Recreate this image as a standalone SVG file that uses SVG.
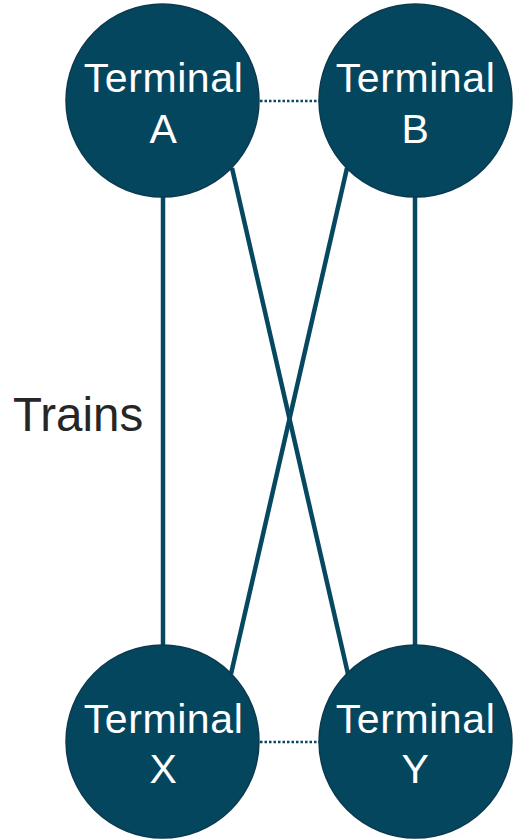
<svg xmlns="http://www.w3.org/2000/svg" width="513" height="840" viewBox="0 0 513 840">
<style>
.node{fill:#05465F;stroke:#0B3A4F;stroke-width:1.5}
.lbl{font-family:"Liberation Sans",Arial,sans-serif;font-size:41px;letter-spacing:0.6px;fill:#FFFFFF;text-anchor:middle}
.link{stroke:#05485F;stroke-width:4.5;fill:none}
.dot{stroke:#05485F;stroke-width:2.5;stroke-dasharray:2.5 2;fill:none}
</style>
<rect width="513" height="840" fill="#FFFFFF"/>
<g id="connectors">
<line class="link" x1="163" y1="190" x2="163" y2="650"/>
<line class="link" x1="415" y1="190" x2="415" y2="650"/>
<line class="link" x1="232" y1="168" x2="348" y2="674"/>
<line class="link" x1="347" y1="168" x2="231" y2="674"/>
<line class="dot" x1="260" y1="101" x2="319" y2="101"/>
<line class="dot" x1="260" y1="742" x2="319" y2="742"/>
</g>
<g id="terminalA">
<circle class="node" cx="162.5" cy="100.5" r="96.5"/>
<text class="lbl" x="163.5" y="92">Terminal</text>
<text class="lbl" x="163.5" y="143">A</text>
</g>
<g id="terminalB">
<circle class="node" cx="415.5" cy="100.5" r="96.5"/>
<text class="lbl" x="415.5" y="92">Terminal</text>
<text class="lbl" x="415.5" y="143">B</text>
</g>
<g id="terminalX">
<circle class="node" cx="162.5" cy="741.5" r="96.5"/>
<text class="lbl" x="163.5" y="733">Terminal</text>
<text class="lbl" x="163.5" y="783">X</text>
</g>
<g id="terminalY">
<circle class="node" cx="415.5" cy="741.5" r="96.5"/>
<text class="lbl" x="415.5" y="733">Terminal</text>
<text class="lbl" x="415.5" y="783">Y</text>
</g>
<g id="label-trains">
<text x="13" y="431" font-family="Liberation Sans, Arial, sans-serif" font-size="47.5" fill="#262626">Trains</text>
</g>
</svg>
